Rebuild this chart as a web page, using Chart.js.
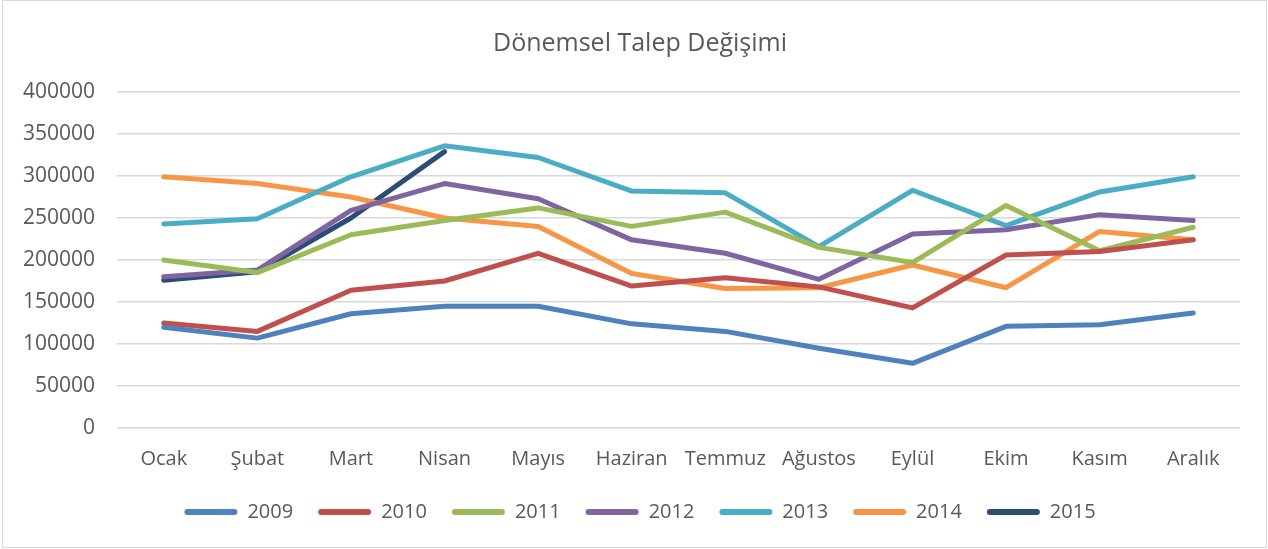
<!DOCTYPE html>
<html>
<head>
<meta charset="utf-8">
<script src="https://cdn.jsdelivr.net/npm/chart.js@4/dist/chart.umd.min.js"></script>
<style>
html,body{margin:0;padding:0;background:#fff;}
#wrap{width:1268px;height:549px;position:relative;}
</style>
</head>
<body>
<div id="wrap"><canvas id="c" width="1268" height="549"></canvas></div>
<script>
const categories = ["Ocak","Şubat","Mart","Nisan","Mayıs","Haziran","Temmuz","Ağustos","Eylül","Ekim","Kasım","Aralık"];
const yTicks = [0,50000,100000,150000,200000,250000,300000,350000,400000];
const years = ["2009","2010","2011","2012","2013","2014","2015"];
const v2009 = [120000,107000,136000,145000,145000,124000,115000,95000,77000,121000,123000,137000];
const v2010 = [125000,115000,164000,175000,208000,169000,179000,168000,143000,206000,210000,224000];
const v2011 = [200000,185000,230000,247000,262000,240000,257000,215000,197000,265000,211000,239000];
const v2012 = [180000,188000,259000,291000,273000,224000,208000,177000,231000,236000,254000,247000];
const v2013 = [243000,249000,299000,336000,322000,282000,280000,216000,283000,241000,281000,299000];
const v2014 = [299000,291000,275000,250000,240000,184000,166000,167000,194000,167000,234000,224000];
const v2015 = [176000,186000,250000,329000,null,null,null,null,null,null,null,null];
const colors = ["#4F81BD","#C0504D","#9BBB59","#8064A2","#4BACC6","#F79646","#2C4D75"];
const seriesValues = [v2009,v2010,v2011,v2012,v2013,v2014,v2015];

const FONT = '"Open Sans", "Noto Sans", sans-serif';
const TXT = '#595959';

const datasets = years.map((y,i)=>({
  label: y,
  data: seriesValues[i],
  borderColor: colors[i],
  backgroundColor: colors[i],
  borderWidth: 5,
  pointRadius: 0,
  pointHoverRadius: 0,
  tension: 0,
  borderCapStyle: 'round',
  borderJoinStyle: 'round',
  spanGaps: false,
  fill: false,
  yAxisID: 'y'
}));

const frame = {
  id: 'frame',
  beforeDraw(chart){
    const ctx = chart.ctx;
    ctx.save();
    ctx.fillStyle = '#fff';
    ctx.fillRect(0,0,chart.width,chart.height);
    ctx.strokeStyle = '#d9d9d9';
    ctx.lineWidth = 1;
    ctx.strokeRect(2.5,0.5,chart.width-4,chart.height-2);
    ctx.restore();
  }
};

new Chart(document.getElementById('c'), {
  type: 'line',
  data: { labels: categories, datasets },
  plugins: [frame],
  options: {
    responsive: false,
    animation: false,
    devicePixelRatio: 1,
    layout: { padding: { left: 18, right: 6, top: 29, bottom: 17 } },
    plugins: {
      title: {
        display: true,
        text: 'Dönemsel Talep Değişimi',
        color: TXT,
        font: { family: FONT, size: 25, weight: 'normal' },
        padding: { top: 0, bottom: 33 }
      },
      legend: {
        display: true,
        position: 'bottom',
        labels: {
          color: TXT,
          font: { family: FONT, size: 20 },
          boxWidth: 53,
          boxHeight: 6,
          padding: 25,
          useBorderRadius: true,
          borderRadius: 3,
          generateLabels(chart){
            return chart.data.datasets.map((d,i)=>({
              text: d.label,
              fillStyle: d.borderColor,
              strokeStyle: d.borderColor,
              lineWidth: 0,
              hidden: false,
              datasetIndex: i,
              fontColor: TXT,
              borderRadius: 3
            }));
          }
        }
      },
      tooltip: { enabled: false }
    },
    scales: {
      x: {
        offset: true,
        grid: { display: false, drawTicks: false },
        border: { display: false },
        ticks: { color: TXT, font: { family: FONT, size: 20 }, padding: 19, maxRotation: 0, autoSkip: false },
        afterFit(s){ s.height = 49; }
      },
      y: {
        min: 0, max: 400000,
        afterBuildTicks(s){ s.ticks = yTicks.map(v=>({value:v})); },
        grid: { color: '#d9d9d9', lineWidth: 1.5, drawTicks: false },
        border: { display: false },
        ticks: { color: TXT, font: { family: FONT, size: 21 }, padding: 22, callback: v => String(v) },
        afterFit(s){ s.width = 99; }
      },
      yRight: {
        position: 'right',
        display: true,
        min: 0, max: 400000,
        grid: { display: false, drawTicks: false },
        border: { display: false },
        ticks: { display: false },
        afterFit(s){ s.width = 22; }
      }
    }
  }
});
</script>
</body>
</html>
